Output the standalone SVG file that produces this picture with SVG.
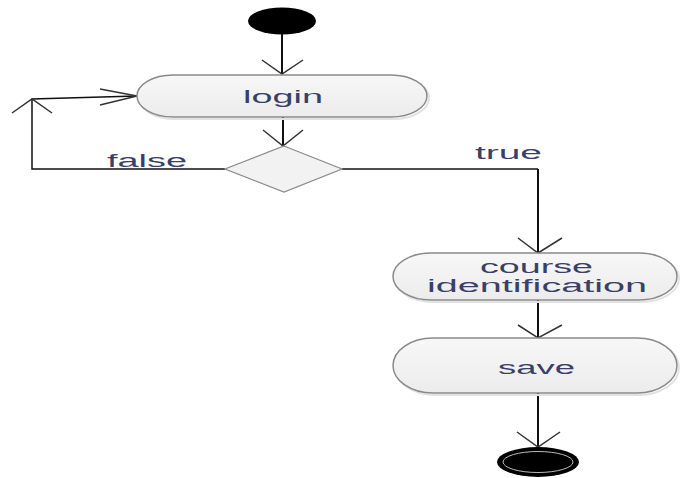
<svg xmlns="http://www.w3.org/2000/svg" width="680" height="478" viewBox="0 0 680 478">
<defs>
<linearGradient id="nodefill" x1="0" y1="0" x2="0" y2="1">
<stop offset="0" stop-color="#f7f7f7"/>
<stop offset="1" stop-color="#ececec"/>
</linearGradient>
</defs>
<style>
.shadow{fill:none;stroke:#e2e2e2;stroke-width:2}
.act{fill:url(#nodefill);stroke:#8a8a8a;stroke-width:1.5}
.dec{fill:#f2f2f2;stroke:#8a8a8a;stroke-width:1.2}
.lbl{font-family:"Liberation Sans",Arial,sans-serif;font-size:18px;fill:#3a3f68}
.edge{fill:none;stroke:#111;stroke-width:2}
.thin{fill:none;stroke:#111;stroke-width:1.5}
.head{fill:none;stroke:#333;stroke-width:1.5}
</style>
<rect width="680" height="478" fill="#ffffff"/>
<g id="connectors">
<line class="edge" x1="282" y1="33" x2="282" y2="74"/>
<path class="head" d="M262,60 L282,74 L303,60"/>
<line class="edge" x1="283" y1="117" x2="283" y2="146"/>
<path class="head" d="M263,130 L283,146 L303,130"/>
<path class="thin" d="M225,169 L32,169 L32,99 L137,96"/>
<path class="head" d="M12,113 L32,99 L52,113"/>
<path class="head" d="M100,89 L137,96 L100,105"/>
<path class="thin" d="M342,169 L538,169"/>
<line class="edge" x1="538" y1="169" x2="538" y2="253"/>
<path class="head" d="M518,238 L538,253 L562,238"/>
<line class="edge" x1="538" y1="300" x2="538" y2="338"/>
<path class="head" d="M518,325 L538,338 L562,325"/>
<line class="edge" x1="538" y1="393" x2="538" y2="447"/>
<path class="head" d="M517,432 L538,447 L560,432"/>
<text class="lbl" x="107" y="167" textLength="80" lengthAdjust="spacingAndGlyphs">false</text>
<text class="lbl" x="475" y="159" textLength="67" lengthAdjust="spacingAndGlyphs">true</text>
</g>
<g id="start">
<ellipse cx="282" cy="21" rx="34" ry="13.5" fill="#000"/>
</g>
<g id="login">
<rect class="shadow" x="139" y="77" width="290" height="42" rx="36" ry="21"/>
<rect class="act" x="137" y="75" width="290" height="42" rx="36" ry="21"/>
<text class="lbl" x="243" y="103" textLength="80" lengthAdjust="spacingAndGlyphs">login</text>
</g>
<g id="decision">
<polygon class="dec" points="284,146 342,169 284,192 225,169"/>
</g>
<g id="course">
<rect class="shadow" x="395" y="255" width="284" height="47" rx="38" ry="23.5"/>
<rect class="act" x="393" y="253" width="284" height="47" rx="38" ry="23.5"/>
<text class="lbl" x="480" y="273" textLength="113" lengthAdjust="spacingAndGlyphs">course</text>
<text class="lbl" x="427" y="292" textLength="220" lengthAdjust="spacingAndGlyphs">identification</text>
</g>
<g id="save">
<rect class="shadow" x="395" y="340" width="284" height="55" rx="40" ry="27.5"/>
<rect class="act" x="393" y="338" width="284" height="55" rx="40" ry="27.5"/>
<text class="lbl" x="498" y="374" textLength="77" lengthAdjust="spacingAndGlyphs">save</text>
</g>
<g id="end">
<ellipse cx="538" cy="462" rx="41" ry="15" fill="#000"/>
<ellipse cx="538" cy="462" rx="35" ry="10.5" fill="#000" stroke="#bbbbbb" stroke-width="1"/>
</g>
</svg>
